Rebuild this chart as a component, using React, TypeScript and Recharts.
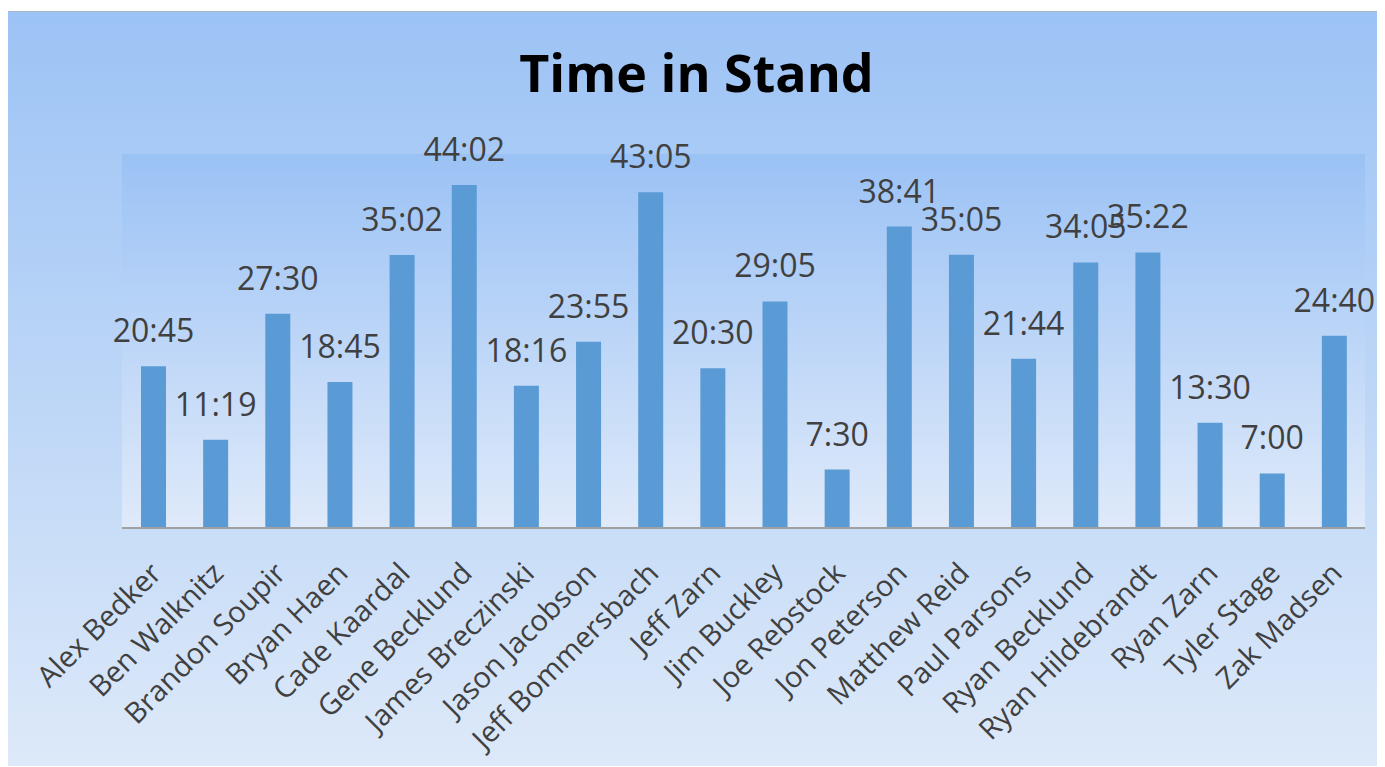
import { BarChart, Bar, XAxis, YAxis, CartesianGrid, LabelList } from "recharts";

const players = [
  "Alex Bedker",
  "Ben Walknitz",
  "Brandon Soupir",
  "Bryan Haen",
  "Cade Kaardal",
  "Gene Becklund",
  "James Breczinski",
  "Jason Jacobson",
  "Jeff Bommersbach",
  "Jeff Zarn",
  "Jim Buckley",
  "Joe Rebstock",
  "Jon Peterson",
  "Matthew Reid",
  "Paul Parsons",
  "Ryan Becklund",
  "Ryan Hildebrandt",
  "Ryan Zarn",
  "Tyler Stage",
  "Zak Madsen",
];

// time in stand, mm:ss
const timeInStand = [
  "20:45", "11:19", "27:30", "18:45", "35:02", "44:02", "18:16", "23:55", "43:05", "20:30",
  "29:05", "7:30", "38:41", "35:05", "21:44", "34:05", "35:22", "13:30", "7:00", "24:40",
];

const FONT = "'Open Sans', sans-serif";
const TEXT_COLOR = "#404040";

function toSeconds(t: string): number {
  const [m, s] = t.split(":").map(Number);
  return m * 60 + s;
}

function formatTime(sec: number): string {
  const m = Math.floor(sec / 60);
  const s = sec % 60;
  return `${m}:${String(s).padStart(2, "0")}`;
}

const data = players.map((name, i) => ({
  name,
  seconds: toSeconds(timeInStand[i]),
}));

function NameTick({ x, y, payload }: { x?: number; y?: number; payload?: { value: string } }) {
  return (
    <g transform={`translate(${(x ?? 0) + 10},${(y ?? 0) + 39})`}>
      <text
        x={0}
        y={0}
        textAnchor="end"
        transform="rotate(-45)"
        fill={TEXT_COLOR}
        fontSize={29}
        fontFamily={FONT}
      >
        {payload?.value}
      </text>
    </g>
  );
}

export default function App() {
  return (
    <div style={{ paddingTop: 3 }}>
      <div
        style={{
          position: "relative",
          width: 1377,
          height: 755,
          background: "linear-gradient(180deg, #9cc3f5 0%, #dde9f9 100%)",
          borderTop: "1px solid #a8b6c8",
          boxSizing: "border-box",
        }}
      >
        <div
          style={{
            position: "absolute",
            left: 0,
            width: "100%",
            top: 24,
            textAlign: "center",
            fontFamily: FONT,
            fontWeight: 700,
            fontSize: 52,
            color: "#000",
          }}
        >
          Time in Stand
        </div>
        <BarChart
          width={1377}
          height={754}
          data={data}
          margin={{ top: 142, right: 20, bottom: 0, left: 114 }}
          barCategoryGap={0}
        >
          <defs>
            <linearGradient id="plotBg" x1="0" y1="0" x2="0" y2="1">
              <stop offset="0%" stopColor="#9bc2f5" />
              <stop offset="100%" stopColor="#dfeafa" />
            </linearGradient>
          </defs>
          <CartesianGrid horizontal={false} vertical={false} fill="url(#plotBg)" stroke="none" />
          <XAxis
            dataKey="name"
            interval={0}
            height={238}
            tick={<NameTick />}
            tickLine={false}
            axisLine={{ stroke: "#a0a0a0", strokeWidth: 2 }}
          />
          <YAxis hide domain={[0, 2880]} />
          <Bar dataKey="seconds" fill="#5b9bd5" barSize={25} isAnimationActive={false}>
            <LabelList
              dataKey="seconds"
              position="top"
              offset={24}
              formatter={(v: number) => formatTime(v)}
              fill={TEXT_COLOR}
              fontSize={32}
              fontFamily={FONT}
            />
          </Bar>
        </BarChart>
      </div>
    </div>
  );
}
